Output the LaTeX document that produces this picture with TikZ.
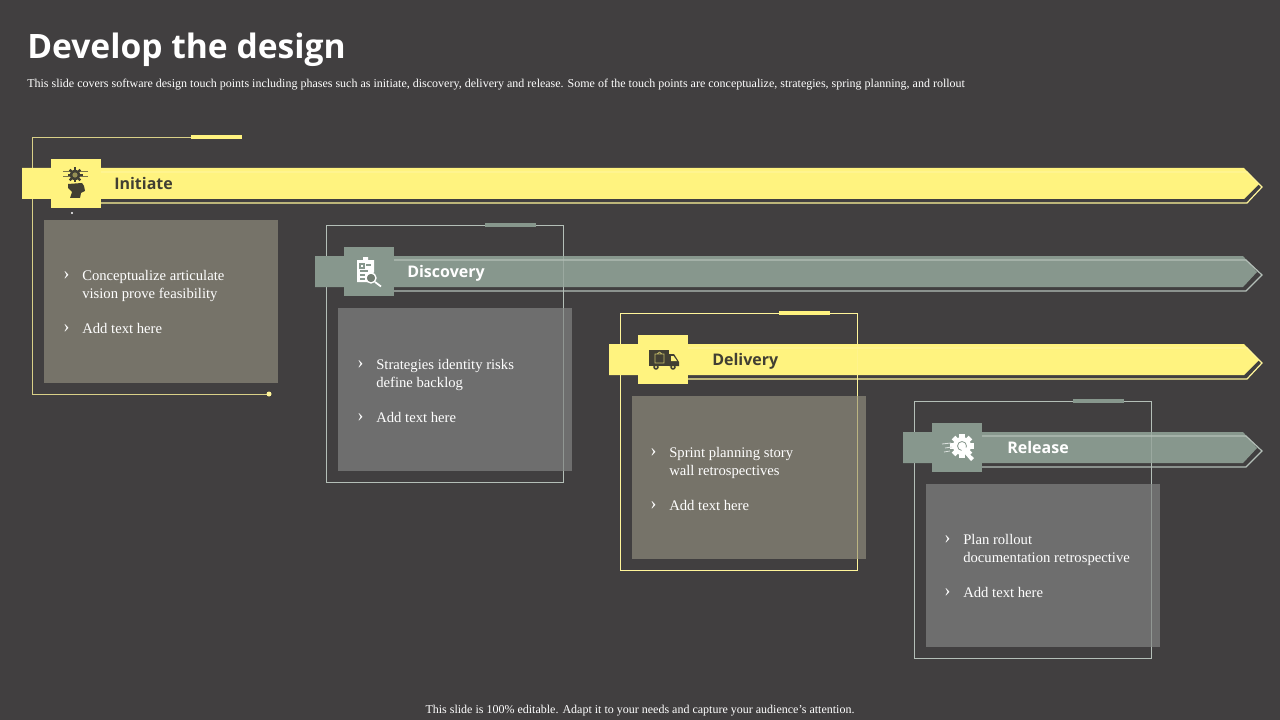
\documentclass[tikz,border=0pt]{standalone}
\usepackage{fontspec}
\setmainfont{Liberation Serif}
\newfontfamily\headfont{Open Sans}
\usepackage{xcolor}
\usetikzlibrary{positioning}

\definecolor{slidebg}{HTML}{413F40}
\definecolor{ribbonyellow}{HTML}{FFF37F}
\definecolor{ribbongray}{HTML}{87978D}
\definecolor{lineyellow}{HTML}{FFF59A}
\definecolor{linegray}{HTML}{B4BFB8}
\definecolor{boxyellow}{HTML}{7B776D}
\definecolor{boxgray}{HTML}{727272}
\definecolor{darkink}{HTML}{413F33}

\tikzset{
    bodytext/.style={anchor=west, inner sep=0pt, align=left, text=white, font=\fontsize{11}{13.5}\selectfont},
    bullet/.style={anchor=center, inner sep=0pt, text=white, font=\fontsize{14}{14}\selectfont},
    stagelabel/.style={anchor=base west, inner sep=0pt, font=\headfont\fontsize{12}{14}\selectfont\bfseries},
    iconsquare/.style={minimum width=37.5pt, minimum height=37pt, inner sep=0pt},
    textbox/.style={minimum width=175.5pt, minimum height=122pt, inner sep=0pt, fill opacity=.93}
}

\begin{document}
\begin{tikzpicture}[x=.75pt, y=-.75pt]
    \useasboundingbox[fill=slidebg] (0,0) rectangle (1280,720);

    % Titolo
    \node[anchor=base west, inner sep=0pt, text=white, font=\headfont\fontsize{25.2}{30}\selectfont\bfseries] (title) at (27,59) {Develop the design};
    \node[anchor=base west, inner sep=0pt, text=white, font=\fontsize{9}{10}\selectfont] (subtitle) at (27,87.5) {This slide covers software design touch points including phases such as initiate, discovery, delivery and release. Some of the touch points are conceptualize, strategies, spring planning, and rollout};
    \node[anchor=base, inner sep=0pt, text=white, font=\fontsize{9}{11}\selectfont] (footer) at (640,713) {This slide is 100\% editable. Adapt it to your needs and capture your audience's attention.};

    % Cornici
    \draw[lineyellow, draw opacity=.8, line width=.6pt] (191,137.5) -- (32.5,137.5) -- (32.5,394) -- (269,394);
    \draw[linegray, line width=.6pt] (326.5,225) rectangle (563,482);
    \draw[lineyellow, line width=.6pt] (620.5,313.5) rectangle (857,570);
    \draw[linegray, line width=.6pt] (914.5,401.5) rectangle (1151,658);

    % Trattini e punti
    \fill[ribbonyellow] (191,135) rectangle (242,139);
    \fill[ribbongray] (485,223) rectangle (536,227);
    \fill[ribbonyellow] (779,311) rectangle (830,315);
    \fill[ribbongray] (1073,399) rectangle (1124,403);
    \fill[lineyellow] (269,394) circle (2.5);
    \fill[white] (72,213) circle (1.2);

    % Nastri
    \fill[ribbonyellow] (22,168) -- (1244,168) -- (1259,184) -- (1244,199) -- (22,199) -- cycle;
    \draw[lineyellow, line width=.9pt] (95,172) -- (1247,172) -- (1262,187) -- (1247,203) -- (95,203);
    \fill[ribbongray] (315,256) -- (1243,256) -- (1257,272) -- (1243,287) -- (315,287) -- cycle;
    \draw[linegray, line width=.9pt] (389,260) -- (1246,260) -- (1262,275) -- (1246,291) -- (389,291);
    \fill[ribbonyellow] (609,344) -- (1244,344) -- (1259,360) -- (1244,375) -- (609,375) -- cycle;
    \draw[lineyellow, line width=.9pt] (683,348) -- (1247,348) -- (1262,363) -- (1247,379) -- (683,379);
    \fill[ribbongray] (903,432) -- (1243,432) -- (1257,448) -- (1243,463) -- (903,463) -- cycle;
    \draw[linegray, line width=.9pt] (977,436) -- (1246,436) -- (1262,451) -- (1246,467) -- (977,467);

    % Quadrati delle icone
    \node[iconsquare, fill=ribbonyellow] (initsquare) at (75.5,183.5) {};
    \node[iconsquare, fill=ribbongray] (discsquare) at (369,271.5) {};
    \node[iconsquare, fill=ribbonyellow] (delisquare) at (663,359.5) {};
    \node[iconsquare, fill=ribbongray] (relesquare) at (957,447.5) {};

    % Icona initiate
    \draw[darkink!70!ribbonyellow, line width=.4pt] (63,171) -- (88,171) (63,176) -- (88,176);
    \foreach \a in {0,45,...,315} {
        \fill[darkink, rotate around={\a:(75,175)}] (73.8,167.5) rectangle (76.2,171);
    }
    \fill[darkink] (75,175) circle (5.5);
    \fill[ribbonyellow!45!darkink] (75,175) circle (2.6);
    \fill[darkink] (68,184) -- (82,183) -- (84,186) -- (85,191) -- (81,193) -- (80,198) -- (70,198) -- (72,192) -- (68,188) -- cycle;

    % Icona discovery
    \fill[white] (357,260) -- (363,260) -- (363,257) -- (368,257) -- (368,260) -- (374,260) -- (374,272) -- (368,282) -- (357,282) -- cycle;
    \draw[ribbongray, line width=.8pt] (360,264) rectangle (364,268) (366,265) -- (371,265) (360,271) -- (368,271) (360,275) -- (365,275) (360,279) -- (365,279);
    \fill[ribbongray!70!darkink] (371,278) circle (5);
    \draw[white, line width=1pt] (371,278) circle (5);
    \draw[white, line width=1.3pt] (375,282) -- (381,286.5);

    % Icona delivery
    \fill[darkink] (649,350) -- (669,350) -- (669,366) -- (649,366) -- cycle;
    \fill[darkink] (669,354) -- (674,354) -- (679,362) -- (679,366) -- (669,366) -- cycle;
    \fill[darkink] (656,367) circle (2.8) (673,367) circle (2.8);
    \fill[ribbonyellow] (656,367) circle (1.1) (673,367) circle (1.1);
    \draw[ribbonyellow!70!darkink, line width=.5pt] (655,354) rectangle (664,363) (657,354) -- (659.5,352) -- (662,354);
    \fill[ribbonyellow] (671,356) -- (673.5,356) -- (677,361) -- (671,361) -- cycle;

    % Icona release
    \foreach \a in {0,45,...,315} {
        \fill[white, rotate around={\a:(962,446)}] (959.4,434) rectangle (964.6,440);
    }
    \fill[white] (962,446) circle (9);
    \draw[ribbongray, line width=.6pt] (962,446) circle (4.5);
    \fill[white] (961,444) -- (969,450) -- (966,451) -- (974,458) -- (971,461) -- (964,453) -- (962,455) -- cycle;
    \draw[white!70!ribbongray, line width=.6pt] (942,444) -- (951,443) (945,448) -- (952,447) (944,452) -- (950,451);

    % Etichette
    \node[stagelabel, text=darkink] (initlabel) at (114,189.5) {Initiate};
    \node[stagelabel, text=white] (disclabel) at (407,277) {Discovery};
    \node[stagelabel, text=darkink] (delilabel) at (712,365) {Delivery};
    \node[stagelabel, text=white] (relelabel) at (1007,453) {Release};

    % Riquadri
    \node[textbox, anchor=north west, fill=boxyellow] (initbox) at (44,220) {};
    \node[textbox, anchor=north west, fill=boxgray] (discbox) at (338,308) {};
    \node[textbox, anchor=north west, fill=boxyellow] (delibox) at (632,396) {};
    \node[textbox, anchor=north west, fill=boxgray] (relebox) at (926,484) {};

    % Cornici sopra i riquadri
    \draw[linegray, draw opacity=.45, line width=.6pt] (563,225) -- (563,482);
    \draw[lineyellow, draw opacity=.45, line width=.6pt] (857,314) -- (857,570);
    \draw[linegray, draw opacity=.45, line width=.6pt] (1151,402) -- (1151,658);

    % Testi initiate
    \node[bullet] (inita) at (66.5,276) {›};
    \node[bodytext] (initone) at (82,285.5) {Conceptualize articulate\\vision prove feasibility};
    \node[bullet] (initb) at (66.5,329) {›};
    \node[bodytext] (inittwo) at (82,328.5) {Add text here};

    % Testi discovery
    \node[bullet] (disca) at (360.5,365) {›};
    \node[bodytext] (discone) at (376,374.5) {Strategies identity risks\\define backlog};
    \node[bullet] (discb) at (360.5,418) {›};
    \node[bodytext] (disctwo) at (376,417.5) {Add text here};

    % Testi delivery
    \node[bullet] (delia) at (653.5,453) {›};
    \node[bodytext] (delione) at (669,462.5) {Sprint planning story\\wall retrospectives};
    \node[bullet] (delib) at (653.5,506) {›};
    \node[bodytext] (delitwo) at (669,505.5) {Add text here};

    % Testi release
    \node[bullet] (relea) at (947.5,540) {›};
    \node[bodytext] (releone) at (963,549.5) {Plan rollout\\documentation retrospective};
    \node[bullet] (releb) at (947.5,593) {›};
    \node[bodytext] (reletwo) at (963,592.5) {Add text here};
\end{tikzpicture}
\end{document}
